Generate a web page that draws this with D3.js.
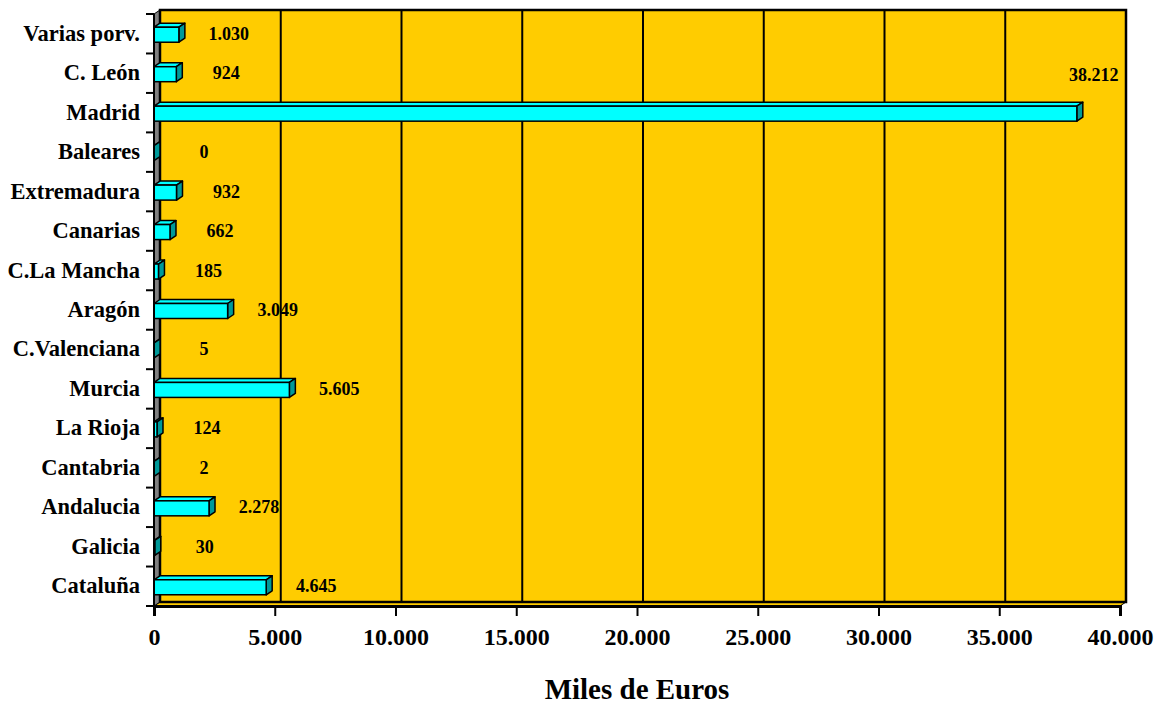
<!DOCTYPE html>
<html>
<head>
<meta charset="utf-8">
<script src="https://cdn.jsdelivr.net/npm/d3@7"></script>
<style>
  body { margin: 0; background: #fff; }
  svg { font-family: "Liberation Serif", "Times New Roman", serif; font-weight: bold; }
</style>
</head>
<body>
<svg width="1162" height="704"></svg>
<script>
// data, top to bottom as in the chart
const regions = ["Varias porv.", "C. León", "Madrid", "Baleares", "Extremadura", "Canarias",
  "C.La Mancha", "Aragón", "C.Valenciana", "Murcia", "La Rioja", "Cantabria",
  "Andalucia", "Galicia", "Cataluña"];
const values = [1030, 924, 38212, 0, 932, 662, 185, 3049, 5, 5605, 124, 2, 2278, 30, 4645];
const xTicks = [0, 5000, 10000, 15000, 20000, 25000, 30000, 35000, 40000];
const axisTitle = "Miles de Euros";

const svg = d3.select("svg");
const fmt = d3.formatLocale({decimal: ",", thousands: ".", grouping: [3], currency: ["", ""]}).format(",");

// front plane and depth offset of the 3d box
const front = {left: 154, right: 1120, top: 14, bottom: 606};
const dx = 6, dy = 4;

const x = d3.scaleLinear().domain([0, 40000]).range([front.left, front.right]);
const y = d3.scaleBand().domain(regions).range([front.top, front.bottom]);
const barH = 15;

const gold = "#ffcc00", cyan = "#00ffff", teal = "#009999";

// floor
svg.append("polygon")
  .attr("points", [[front.left, front.bottom], [front.right, front.bottom],
    [front.right + dx, front.bottom - dy], [front.left + dx, front.bottom - dy]].join(" "))
  .attr("fill", gold).attr("stroke", "#000").attr("stroke-width", 1);

// left wall
svg.append("polygon")
  .attr("points", [[front.left, front.top], [front.left + dx, front.top - dy],
    [front.left + dx, front.bottom - dy], [front.left, front.bottom]].join(" "))
  .attr("fill", "#808080").attr("stroke", "#000").attr("stroke-width", 1);

// back wall
svg.append("rect")
  .attr("x", front.left + dx).attr("y", front.top - dy)
  .attr("width", front.right - front.left).attr("height", front.bottom - front.top)
  .attr("fill", gold).attr("stroke", "#000").attr("stroke-width", 2.5);

// gridlines on back wall
svg.append("g").selectAll("line")
  .data(xTicks.slice(1, -1))
  .join("line")
  .attr("x1", d => x(d) + dx).attr("x2", d => x(d) + dx)
  .attr("y1", front.top - dy).attr("y2", front.bottom - dy)
  .attr("stroke", "#000").attr("stroke-width", 2);

// bars
const bars = svg.append("g").selectAll("g")
  .data(regions.map((r, i) => ({r, v: values[i]})))
  .join("g");

bars.each(function(d) {
  const g = d3.select(this);
  const y0 = y(d.r) + y.bandwidth() / 2 - barH / 2 + 1;
  const y1 = y0 + barH;
  const x0 = x(0), x1 = x(d.v);
  // top
  g.append("polygon")
    .attr("points", [[x0, y0], [x1, y0], [x1 + dx, y0 - dy], [x0 + dx, y0 - dy]].join(" "))
    .attr("fill", cyan).attr("stroke", "#000").attr("stroke-width", 1.5).attr("stroke-linejoin", "round");
  // side
  g.append("polygon")
    .attr("points", [[x1, y0], [x1 + dx, y0 - dy], [x1 + dx, y1 - dy], [x1, y1]].join(" "))
    .attr("fill", teal).attr("stroke", "#000").attr("stroke-width", 1.5).attr("stroke-linejoin", "round");
  // front
  if (x1 > x0) {
    g.append("rect")
      .attr("x", x0).attr("y", y0).attr("width", x1 - x0).attr("height", barH)
      .attr("fill", cyan).attr("stroke", "#000").attr("stroke-width", 1.5);
  }
});

// data labels, moved above the bar when there is no room on the right
const fits = d => x(d.v) + 50 < front.right - 40;
bars.append("text")
  .attr("x", d => fits(d) ? x(d.v) + 50 : x(d.v) + 17)
  .attr("y", d => fits(d) ? y(d.r) + y.bandwidth() / 2 + 6 : y(d.r) - 12)
  .attr("text-anchor", "middle")
  .attr("font-size", 18)
  .text(d => fmt(d.v));

// y axis (front left edge)
const yAxis = svg.append("g");
yAxis.append("line")
  .attr("x1", front.left).attr("x2", front.left)
  .attr("y1", front.top).attr("y2", front.bottom)
  .attr("stroke", "#000").attr("stroke-width", 2);
yAxis.selectAll("line.tick")
  .data(regions.map(r => y(r)).concat([front.bottom]))
  .join("line").attr("class", "tick")
  .attr("x1", front.left - 8).attr("x2", front.left)
  .attr("y1", d => d).attr("y2", d => d)
  .attr("stroke", "#000").attr("stroke-width", 2);
yAxis.selectAll("text")
  .data(regions)
  .join("text")
  .attr("x", front.left - 14)
  .attr("y", d => y(d) + y.bandwidth() / 2 + 7)
  .attr("text-anchor", "end")
  .attr("font-size", 22.5)
  .text(d => d);

// x axis (front bottom edge)
const xAxis = d3.axisBottom(x).tickValues(xTicks).tickSize(10).tickFormat(fmt);
const xg = svg.append("g")
  .attr("transform", `translate(0,${front.bottom})`)
  .call(xAxis);
xg.select(".domain").attr("stroke-width", 3);
xg.selectAll(".tick line").attr("stroke-width", 2);
xg.selectAll(".tick text")
  .attr("font-size", 24).attr("font-family", "Liberation Serif").attr("font-weight", "bold")
  .attr("fill", "#000").attr("dy", "1.1em");

svg.append("text")
  .attr("x", (front.left + front.right) / 2)
  .attr("y", 699)
  .attr("text-anchor", "middle")
  .attr("font-size", 29)
  .text(axisTitle);
</script>
</body>
</html>
